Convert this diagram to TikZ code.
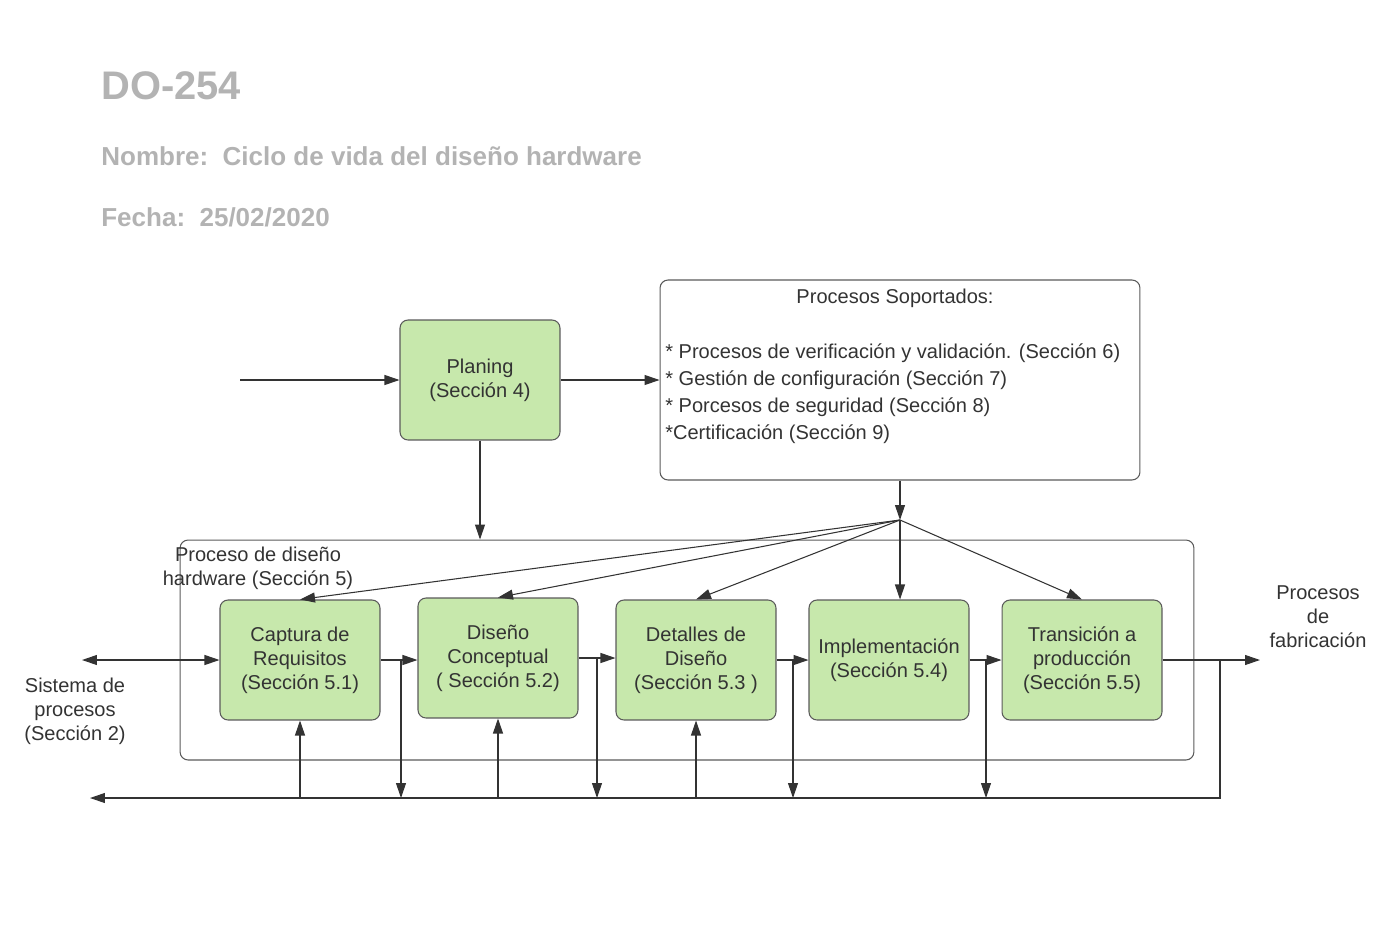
\documentclass[tikz,border=0pt]{standalone}
\usepackage{fontspec}
\setmainfont{Liberation Sans}
\usepackage{tikz}
\usepackage{xcolor}
\usetikzlibrary{arrows.meta}
\definecolor{verde}{RGB}{199,232,172}
\definecolor{borde}{RGB}{90,90,90}
\definecolor{tinta}{RGB}{51,51,51}
\definecolor{gristit}{RGB}{179,179,179}

\begin{document}
\begin{tikzpicture}[%
        x=0.02cm, y=-0.02cm,
        etapa/.style={ rounded corners=0.16cm, minimum width=3.2cm, minimum height=2.4cm, align=center, line width=0.6pt, draw=borde, fill=verde, text=tinta, inner sep=0pt, font=\fontsize{11.4}{13.7}\selectfont },%
        marco/.style={ rounded corners=0.16cm, line width=0.6pt, draw=borde, inner sep=0pt },%
        texto/.style={ align=center, text=tinta, inner sep=0pt, font=\fontsize{11.4}{13.7}\selectfont },%
        cabecera/.style={ anchor=base west, text=gristit, inner sep=0pt, font=\bfseries\fontsize{14.8}{18}\selectfont },%
        flecha/.style={ line width=0.6pt, draw=tinta, -{Triangle[length=0.3cm,width=0.2cm]} }%
      ]
      \useasboundingbox (0,0) rectangle (1396,943);
      \node (titulo) at (101, 99) [cabecera, font=\bfseries\fontsize{22.7}{27}\selectfont]{DO-254};
      \node (nombre) at (101,165) [cabecera]{Nombre:\ \ Ciclo de vida del diseño hardware};
      \node (fecha)  at (101,226) [cabecera]{Fecha:\ \ 25/02/2020};

      \node (planing)  at ( 480,380) [etapa]{Planing\\(Sección 4)};
      \node (soportes) at ( 900,380) [marco, minimum width=9.6cm, minimum height=4cm]{};
      \node (soptit)   at ( 895,298) [texto]{Procesos Soportados:};
      \node (soplista) at ( 665,394) [texto, anchor=west, align=left, font=\fontsize{11.4}{15.4}\selectfont]{* Procesos de verificación y validación. (Sección 6)\\* Gestión de configuración (Sección 7)\\* Porcesos de seguridad (Sección 8)\\*Certificación (Sección 9)};
      \node (proceso)  at ( 687,650) [marco, minimum width=20.28cm, minimum height=4.4cm]{};
      \node (proctit)  at ( 258,568) [texto]{Proceso de diseño\\hardware (Sección 5)};

      \node (captura)  at ( 300,660) [etapa]{Captura de\\Requisitos\\(Sección 5.1)};
      \node (concepto) at ( 498,658) [etapa]{Diseño\\Conceptual\\( Sección 5.2)};
      \node (detalles) at ( 696,660) [etapa]{Detalles de\\Diseño\\(Sección 5.3 )};
      \node (implem)   at ( 889,660) [etapa]{Implementación\\(Sección 5.4)};
      \node (transic)  at (1082,660) [etapa]{Transición a\\producción\\(Sección 5.5)};

      \node (sistema)  at (  75,711) [texto]{Sistema de\\procesos\\(Sección 2)};
      \node (fabrica)  at (1318,617) [texto]{Procesos\\de\\fabricación};

      \coordinate (entrada) at ( 240,380);
      \coordinate (reparto) at ( 900,520);
      \coordinate (izq)     at (  82,660);
      \coordinate (der)     at (1260,660);
      \coordinate (fondo)   at (  90,798);
      \coordinate (retorno) at (1220,660);
      \coordinate (baja1)   at ( 401,659);
      \coordinate (baja2)   at ( 597,659);
      \coordinate (baja3)   at ( 793,660);
      \coordinate (baja4)   at ( 986,660);

      \draw [flecha] (entrada) -- (planing);
      \draw [flecha] (planing) -- (soportes);
      \draw [flecha] (planing.south) -- (planing.south |- proceso.north);
      \draw [flecha] (soportes.south) -- (reparto);
      \draw [flecha] (reparto) -- (captura.north);
      \draw [flecha] (reparto) -- (concepto.north);
      \draw [flecha] (reparto) -- (detalles.north);
      \draw [flecha] (reparto) -- (reparto |- implem.north);
      \draw [flecha] (reparto) -- (transic.north);

      \draw [flecha, {Triangle[length=0.3cm,width=0.2cm]}-{Triangle[length=0.3cm,width=0.2cm]}] (izq) -- (captura);
      \draw [flecha] (captura.east) -- (captura.east -| concepto.west);
      \draw [flecha] (concepto.east) -- (concepto.east -| detalles.west);
      \draw [flecha] (detalles.east) -- (implem.west);
      \draw [flecha] (implem.east) -- (transic.west);
      \draw [flecha] (transic) -- (der);

      \draw [flecha] (baja1) -- (baja1 |- fondo);
      \draw [flecha] (baja2) -- (baja2 |- fondo);
      \draw [flecha] (baja3) -- (baja3 |- fondo);
      \draw [flecha] (baja4) -- (baja4 |- fondo);
      \draw [flecha] (retorno) -- (retorno |- fondo) -- (fondo);
      \draw [flecha] (captura.south |- fondo) -- (captura.south);
      \draw [flecha] (concepto.south |- fondo) -- (concepto.south);
      \draw [flecha] (detalles.south |- fondo) -- (detalles.south);
    \end{tikzpicture}
\end{document}
